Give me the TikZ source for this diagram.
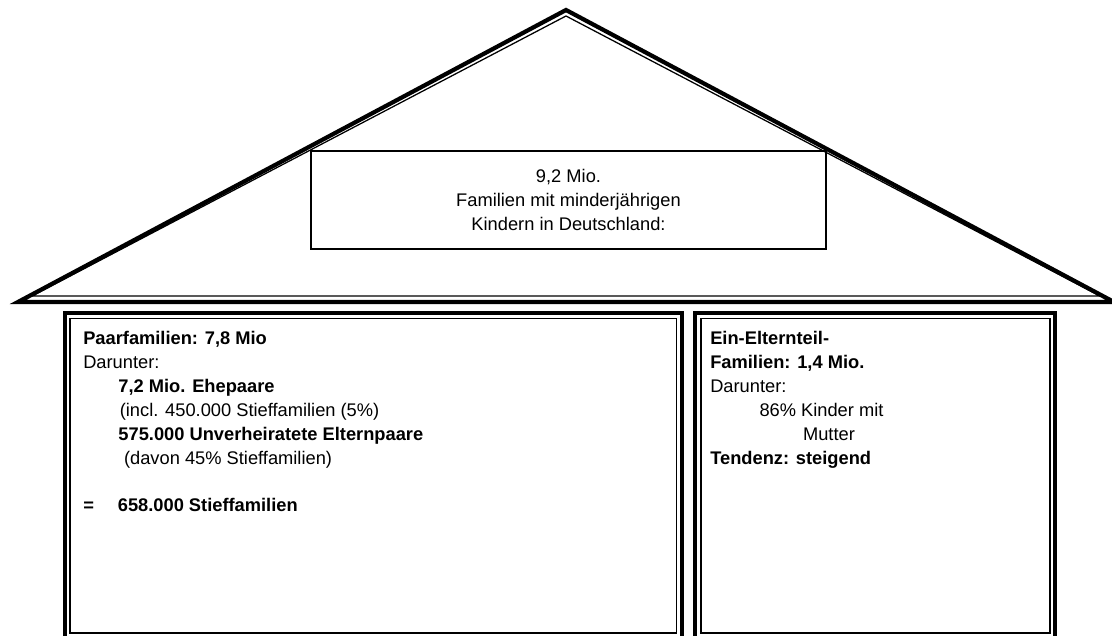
\documentclass[tikz,border=0pt]{standalone}
\usepackage{fontspec}
\setmainfont{Liberation Sans}
\usetikzlibrary{calc}
\tikzset{
  wallthick/.style={line width=3pt, line join=miter},
  wallthin/.style={line width=0.9pt},
  infotext/.style={align=left, anchor=north west, inner sep=0pt,
    font=\fontsize{13}{17}\selectfont},
}
\begin{document}
\begin{tikzpicture}[x=0.025cm, y=-0.025cm]
\useasboundingbox (0,0) rectangle (1112,636);
% Dach
\coordinate (apex) at (566,10);
\coordinate (eaveL) at (18,302);
\coordinate (eaveR) at (1114,302);
\draw[wallthick] (eaveL) -- (apex) -- (eaveR) -- cycle;
\draw[wallthin] (32,296) -- (566,16) -- (1100,296) -- cycle;
\node[draw, line width=0.9pt, minimum width=12.875cm, minimum height=2.45cm,
  align=center, inner sep=0pt, font=\fontsize{13}{17}\selectfont]
  (total) at (568.5,200) {9,2 Mio.\\Familien mit minderjährigen\\Kindern in Deutschland:};
% Zimmer
\draw[wallthick] (65,313) rectangle (682,650);
\draw[wallthin] (70,318.5) rectangle (676.5,633);
\draw[wallthick] (695,313) rectangle (1055,650);
\draw[wallthin] (701,318.5) rectangle (1050,633);
\node[infotext] (pairs) at (83,331) {\textbf{Paarfamilien: 7,8 Mio}\\
Darunter:\\
\hspace*{25pt}\textbf{7,2 Mio. Ehepaare}\\
\hspace*{26pt}(incl. 450.000 Stieffamilien (5\%)\\
\hspace*{25pt}\textbf{575.000 Unverheiratete Elternpaare}\\
\hspace*{29pt}(davon 45\% Stieffamilien)\\[17pt]
\textbf{=\hspace*{17pt}658.000 Stieffamilien}};
\node[infotext] (single) at (710,331) {\textbf{Ein-Elternteil-}\\
\textbf{Familien: 1,4 Mio.}\\
Darunter:\\
\hspace*{35pt}86\% Kinder mit\\
\hspace*{66pt}Mutter\\
\textbf{Tendenz: steigend}};
\end{tikzpicture}
\end{document}
